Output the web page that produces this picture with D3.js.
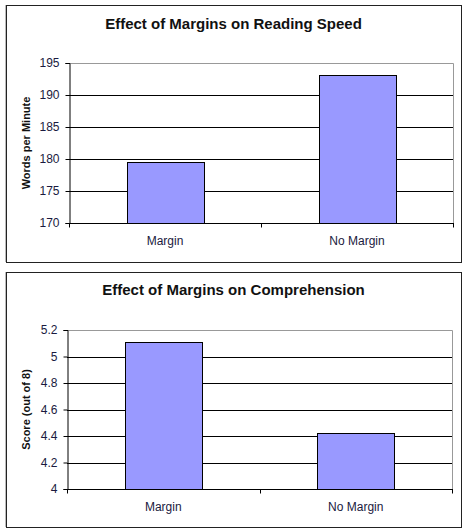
<!DOCTYPE html>
<html>
<head>
<meta charset="utf-8">
<style>
  body { margin: 0; background: #fff; }
  svg { display: block; font-family: "Liberation Sans", Arial, sans-serif; }
</style>
</head>
<body>
<div id="chart_div"></div>
<script src="https://d3js.org/d3.v7.min.js"></script>
<script>

// data
const categories = ["Margin", "No Margin"];
const speedValues = [179.5, 193.1];
const speedTicks = [170, 175, 180, 185, 190, 195];
const comprehensionValues = [5.11, 4.42];
const comprehensionTicks = [4, 4.2, 4.4, 4.6, 4.8, 5, 5.2];

const width = 467, height = 532;

const svg = d3.select("#chart_div")
  .append("svg")
    .attr("width", width)
    .attr("height", height);

function drawChart(opts) {
  let g = svg.append("g");

  // outer frame
  g.append("line")
    .attr("x1", opts.box.x - 0.5).attr("x2", opts.box.x - 0.5)
    .attr("y1", opts.box.y).attr("y2", opts.box.y + opts.box.h)
    .attr("stroke", "#bbb");
  g.append("rect")
    .attr("x", opts.box.x + 0.5)
    .attr("y", opts.box.y + 0.5)
    .attr("width", opts.box.w)
    .attr("height", opts.box.h)
    .attr("fill", "none")
    .attr("stroke", "#222");

  // title
  g.append("text")
    .attr("x", opts.box.x + opts.box.w / 2)
    .attr("y", opts.titleY)
    .attr("text-anchor", "middle")
    .style("font-weight", "bold")
    .style("font-size", "15px")
    .attr("fill", "#111")
    .text(opts.title);

  let p = opts.plot;

  let x = d3.scaleBand()
    .domain(categories)
    .range([p.left, p.right])
    .paddingInner(0.6)
    .paddingOuter(0.3);

  let y = d3.scaleLinear()
    .domain([opts.ticks[0], opts.ticks[opts.ticks.length - 1]])
    .range([p.bottom, p.top]);

  // grid lines
  g.append("g")
    .selectAll("line")
    .data(opts.ticks.slice(1, -1))
    .enter()
    .append("line")
      .attr("x1", p.left).attr("x2", p.right)
      .attr("y1", d => Math.round(y(d)) + 0.5)
      .attr("y2", d => Math.round(y(d)) + 0.5)
      .attr("stroke", "#000");

  // grey top and right edges of plot area
  g.append("path")
    .attr("d", "M" + p.left + "," + (p.top + 0.5) + "H" + (p.right + 0.5) + "V" + p.bottom)
    .attr("fill", "none")
    .attr("stroke", "#999");

  // bars
  g.selectAll(".bar")
    .data(opts.values)
    .enter()
    .append("rect")
      .attr("class", "bar")
      .attr("x", (d, i) => Math.round(x(categories[i])) + 0.5)
      .attr("y", d => Math.round(y(d)) + 0.5)
      .attr("width", Math.round(x.bandwidth()))
      .attr("height", d => p.bottom - Math.round(y(d)))
      .attr("fill", "#9999ff")
      .attr("stroke", "#000");

  // y axis
  let yAxis = g.append("g")
    .attr("transform", "translate(" + (p.left + 0.5) + ",0)")
    .call(d3.axisLeft(y).tickValues(opts.ticks).tickFormat(d3.format("~g")).tickSize(4).tickPadding(6));
  yAxis.selectAll("text")
    .style("font-size", "12px")
    .style("font-family", "'Liberation Sans', Arial, sans-serif")
    .attr("fill", "#1a1a40");

  // x axis with ticks between categories
  let xAxisG = g.append("g")
    .attr("transform", "translate(0," + (p.bottom + 0.5) + ")");
  xAxisG.append("line")
    .attr("x1", p.left).attr("x2", p.right + 1)
    .attr("stroke", "#000");
  let edges = [p.left, (p.left + p.right) / 2, p.right];
  xAxisG.selectAll(".edge")
    .data(edges)
    .enter()
    .append("line")
      .attr("x1", d => Math.round(d) + 0.5).attr("x2", d => Math.round(d) + 0.5)
      .attr("y1", 0).attr("y2", 4)
      .attr("stroke", "#000");
  xAxisG.selectAll(".cat")
    .data(categories)
    .enter()
    .append("text")
      .attr("x", d => x(d) + x.bandwidth() / 2)
      .attr("y", 21)
      .attr("text-anchor", "middle")
      .style("font-size", "12px")
      .attr("fill", "#1a1a40")
      .text(d => d);

  // y axis label
  g.append("text")
    .attr("transform", "rotate(-90)")
    .attr("x", -(p.top + p.bottom) / 2)
    .attr("y", opts.box.x + 24)
    .attr("text-anchor", "middle")
    .style("font-weight", "bold")
    .style("font-size", "11px")
    .attr("fill", "#111")
    .text(opts.yLabel);
}

drawChart({
  box: {x: 6, y: 5, w: 455, h: 257},
  titleY: 29,
  title: "Effect of Margins on Reading Speed",
  yLabel: "Words per Minute",
  plot: {left: 69, right: 453, top: 63, bottom: 223},
  ticks: speedTicks,
  values: speedValues
});

drawChart({
  box: {x: 6, y: 272, w: 455, h: 255},
  titleY: 295,
  title: "Effect of Margins on Comprehension",
  yLabel: "Score (out of 8)",
  plot: {left: 67, right: 452, top: 330, bottom: 489},
  ticks: comprehensionTicks,
  values: comprehensionValues
});

</script>
</body>
</html>
